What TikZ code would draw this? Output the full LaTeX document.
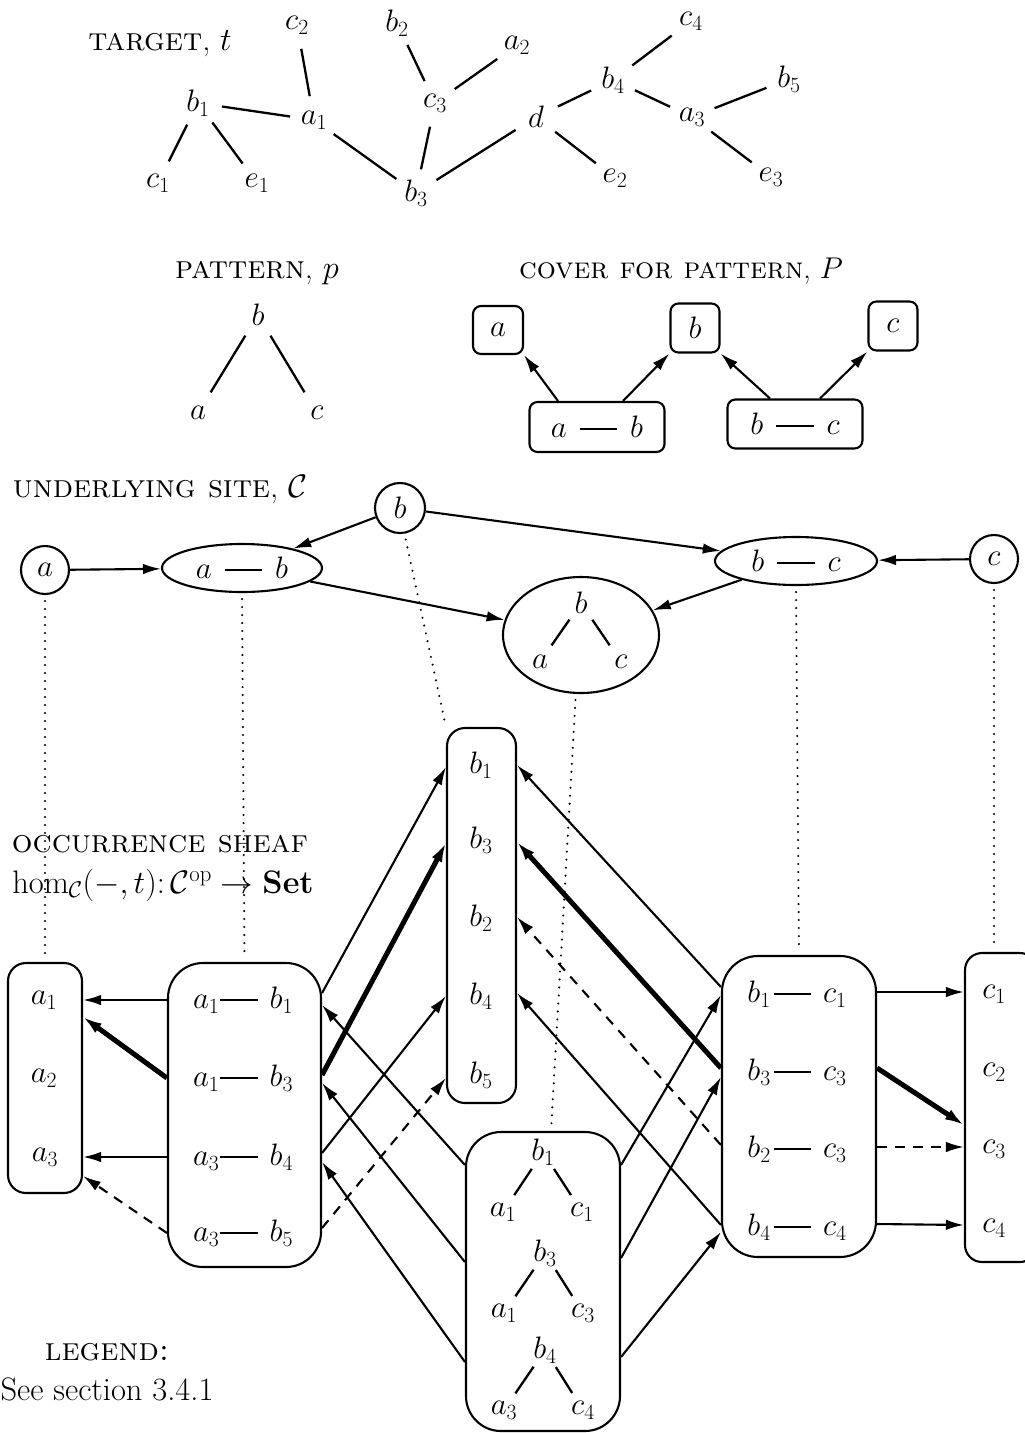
\documentclass[tikz,border=0pt]{standalone}
\usepackage{fix-cm}
\usetikzlibrary{arrows.meta,shapes.geometric,calc}
\newcommand\mydash{\rule[0.24em]{1.2em}{0.06em}}
\begin{document}
\begin{tikzpicture}[x=1pt,y=-1pt,
  every node/.style={font=\fontsize{31}{37}\selectfont},
  tl/.style={circle, inner sep=0pt, minimum size=48pt},
  ts/.style={circle, inner sep=0pt, minimum size=40pt},
  tline/.style={line width=2.3pt},
  box/.style={draw, line width=2.1pt, inner sep=0pt},
  sitenode/.style={draw, line width=2.1pt, inner sep=0pt},
  arr/.style={line width=2.1pt, -{Latex[length=18pt,width=10.5pt]}},
  thk/.style={line width=5pt, -{Latex[length=19pt,width=11.5pt]}},
  dsh/.style={arr, dash pattern=on 10pt off 8pt},
  dot/.style={line width=2.3pt, line cap=round, dash pattern=on 0pt off 8pt, shorten <=6pt, shorten >=6pt},
  ttl/.style={anchor=base, inner sep=0pt, font=\fontsize{32.5}{39}\selectfont}]
\path[use as bounding box, fill=white] (0,0) rectangle (1025,1433);

% ---------- TARGET ----------
\node[ttl] (ttarget) at (160,50) {\textsc{target}, $t$};
\node[tl] (tc2) at (297,25) {$c_2$};
\node[tl] (tb2) at (397,23) {$b_2$};
\node[tl] (ta2) at (517,45) {$a_2$};
\node[tl] (tc4) at (691,21) {$c_4$};
\node[tl] (tb1) at (198,103) {$b_1$};
\node[tl] (ta1) at (314,120) {$a_1$};
\node[tl] (tc3) at (435,103) {$c_3$};
\node[tl] (td) at (536,117) {$d$};
\node[tl] (tb4) at (613,80) {$b_4$};
\node[tl] (ta3) at (692,117) {$a_3$};
\node[tl] (tb5) at (789,79) {$b_5$};
\node[tl] (tc1) at (158,183) {$c_1$};
\node[tl] (te1) at (257,183) {$e_1$};
\node[tl] (tb3) at (416,193) {$b_3$};
\node[tl] (te2) at (615,178) {$e_2$};
\node[tl] (te3) at (771,177) {$e_3$};
\draw[tline] (tb1) -- (tc1);
\draw[tline] (tb1) -- (te1);
\draw[tline] (tb1) -- (ta1);
\draw[tline] (ta1) -- (tc2);
\draw[tline] (ta1) -- (tb3);
\draw[tline] (tb3) -- (tc3);
\draw[tline] (tc3) -- (tb2);
\draw[tline] (tc3) -- (ta2);
\draw[tline] (tb3) -- (td);
\draw[tline] (td) -- (tb4);
\draw[tline] (td) -- (te2);
\draw[tline] (tb4) -- (tc4);
\draw[tline] (tb4) -- (ta3);
\draw[tline] (ta3) -- (tb5);
\draw[tline] (ta3) -- (te3);

% ---------- PATTERN ----------
\node[ttl] (tpat) at (257,278) {\textsc{pattern}, $p$};
\node[tl] (pb) at (258,315) {$b$};
\node[tl] (pa) at (198,413) {$a$};
\node[tl] (pc) at (317,413) {$c$};
\draw[tline] (pb) -- (pa);
\draw[tline] (pb) -- (pc);

% ---------- COVER ----------
\node[ttl, font=\fontsize{30}{36}\selectfont] (tcov) at (681,278) {\textsc{cover for pattern}, $P$};
\node[box, rounded corners=8pt, minimum width=50pt, minimum height=48pt] (qa) at (498,330) {$a$};
\node[box, rounded corners=8pt, minimum width=49pt, minimum height=49pt] (qb) at (695,328) {$b$};
\node[box, rounded corners=8pt, minimum width=49pt, minimum height=49pt] (qc) at (893,326) {$c$};
\node[box, rounded corners=8pt, minimum width=135pt, minimum height=50pt] (qab) at (597,427) {$a$\kern13pt\mydash\kern13pt$b$};
\node[box, rounded corners=8pt, minimum width=135pt, minimum height=49pt] (qbc) at (795,424) {$b$\kern13pt\mydash\kern13pt$c$};
\draw[arr] ([xshift=-39pt]qab.north) -- (qa.south east);
\draw[arr] ([xshift=26pt]qab.north) -- (qb.south west);
\draw[arr] ([xshift=-25pt]qbc.north) -- (qb.south east);
\draw[arr] ([xshift=25pt]qbc.north) -- (qc.south west);

% ---------- SITE ----------
\node[ttl] (tsite) at (160,497) {\textsc{underlying site}, $\mathcal{C}$};
\node[sitenode, circle, minimum size=48pt] (Sa) at (45,570) {$a$};
\node[sitenode, ellipse, minimum width=160pt, minimum height=48pt] (Sab) at (242,568) {$a$\kern13pt\mydash\kern13pt$b$};
\node[sitenode, circle, minimum size=50pt] (Sb) at (400,508) {$b$};
\node[sitenode, ellipse, minimum width=156pt, minimum height=116pt] (Sabc) at (581,635) {};
\node[ts] (Xb) at (581,603) {$b$};
\node[ts] (Xa) at (540,662) {$a$};
\node[ts] (Xc) at (621,662) {$c$};
\draw[tline] (Xb) -- (Xa);
\draw[tline] (Xb) -- (Xc);
\node[sitenode, ellipse, minimum width=162pt, minimum height=48pt] (Sbc) at (796,561) {$b$\kern13pt\mydash\kern13pt$c$};
\node[sitenode, circle, minimum size=48pt] (Sc) at (994,559) {$c$};
\draw[arr] (Sa) -- (Sab);
\draw[arr] (Sb) -- (Sab);
\draw[arr] (Sb) -- (Sbc);
\draw[arr] (Sab) -- (Sabc);
\draw[arr] (Sbc) -- (Sabc);
\draw[arr] (Sc) -- (Sbc);

% ---------- OCCURRENCE SHEAF ----------
\node[ttl] (tocc) at (160,852) {\textsc{occurrence sheaf}};
\node[ttl] (thom) at (163,893) {$\hom_{\mathcal{C}}(-,t)\colon\mathcal{C}^{\mathrm{op}}\to\mathbf{Set}$};

\node[box, rounded corners=18pt, minimum width=74pt, minimum height=230pt] (A) at (45,1078) {};
\node[box, rounded corners=35pt, minimum width=153pt, minimum height=304pt] (AB) at (244.5,1115) {};
\node[box, rounded corners=18pt, minimum width=69pt, minimum height=375pt] (B) at (481.5,915.5) {};
\node[box, rounded corners=35pt, minimum width=154pt, minimum height=299pt] (ABC) at (543,1281.5) {};
\node[box, rounded corners=36pt, minimum width=154pt, minimum height=301pt] (BC) at (799,1106.5) {};
\node[box, rounded corners=17pt, minimum width=72pt, minimum height=309pt] (C) at (1001,1107.5) {};

\node (A1) at (44,1000) {$a_1$};
\node (A2) at (44,1078) {$a_2$};
\node (A3) at (45,1157) {$a_3$};
\node (AB1) at (243,1000) {$a_1$\kern1pt\mydash\kern12pt$b_1$};
\node (AB2) at (243,1078) {$a_1$\kern1pt\mydash\kern12pt$b_3$};
\node (AB3) at (243,1157) {$a_3$\kern1pt\mydash\kern12pt$b_4$};
\node (AB4) at (243,1233) {$a_3$\kern1pt\mydash\kern12pt$b_5$};
\node (B1) at (481,765) {$b_1$};
\node (B3) at (481,840) {$b_3$};
\node (B2) at (481,918) {$b_2$};
\node (B4) at (481,996) {$b_4$};
\node (B5) at (481,1075) {$b_5$};
\node[ts] (K1) at (543,1152) {$b_1$};
\node[ts] (K1a) at (503,1212) {$a_1$};
\node[ts] (K1c) at (582,1212) {$c_1$};
\node[ts] (K2) at (545,1253) {$b_3$};
\node[ts] (K2a) at (504,1313) {$a_1$};
\node[ts] (K2c) at (583,1313) {$c_3$};
\node[ts] (K3) at (545,1350) {$b_4$};
\node[ts] (K3a) at (504,1410) {$a_3$};
\node[ts] (K3c) at (583,1410) {$c_4$};
\draw[tline] (K1) -- (K1a); \draw[tline] (K1) -- (K1c);
\draw[tline] (K2) -- (K2a); \draw[tline] (K2) -- (K2c);
\draw[tline] (K3) -- (K3a); \draw[tline] (K3) -- (K3c);
\node (BC1) at (797,994) {$b_1$\kern3pt\mydash\kern12pt$c_1$};
\node (BC2) at (797,1072) {$b_3$\kern3pt\mydash\kern12pt$c_3$};
\node (BC3) at (797,1149) {$b_2$\kern3pt\mydash\kern12pt$c_3$};
\node (BC4) at (797,1227) {$b_4$\kern3pt\mydash\kern12pt$c_4$};
\node (C1) at (994,994) {$c_1$};
\node (C2) at (994,1072) {$c_2$};
\node (C3) at (994,1149) {$c_3$};
\node (C4) at (994,1228) {$c_4$};

% AB -> A
\draw[arr] (AB.west |- AB1) -- (A.east |- AB1);
\draw[thk] (AB.west |- AB2) -- ($(A.east |- A1)+(0,17)$);
\draw[arr] (AB.west |- AB3) -- (A.east |- AB3);
\draw[dsh] (AB.west |- AB4) -- ($(A.east |- A3)+(0,19)$);
% AB -> B
\draw[arr] ($(AB.east |- AB1)+(0,-7)$) -- ($(B.west |- B1)+(0,2)$);
\draw[thk] ($(AB.east |- AB2)+(0,-3)$) -- ($(B.west |- B3)+(0,3)$);
\draw[arr] ($(AB.east |- AB3)+(0,-4)$) -- (B.west |- B4);
\draw[dsh] ($(AB.east |- AB4)+(0,-5)$) -- ($(B.west |- B5)+(0,3)$);
% ABC -> AB
\draw[arr] ($(ABC.west |- K1)+(0,13)$) -- ($(AB.east |- AB1)+(0,5)$);
\draw[arr] ($(ABC.west |- K2)+(0,9)$) -- ($(AB.east |- AB2)+(0,5)$);
\draw[arr] ($(ABC.west |- K3)+(0,12)$) -- ($(AB.east |- AB3)+(0,5)$);
% ABC -> BC
\draw[arr] ($(ABC.east |- K1)+(0,13)$) -- ($(BC.west |- BC1)+(0,1)$);
\draw[arr] ($(ABC.east |- K2)+(0,5)$) -- ($(BC.west |- BC2)+(0,5)$);
\draw[arr] ($(ABC.east |- K3)+(0,7)$) -- ($(BC.west |- BC4)+(0,5)$);
% BC -> B
\draw[arr] ($(BC.west |- BC1)+(0,-7)$) -- (B.east |- B1);
\draw[thk] ($(BC.west |- BC2)+(0,-4)$) -- ($(B.east |- B3)+(0,2)$);
\draw[dsh] ($(BC.west |- BC3)+(0,-4)$) -- ($(B.east |- B2)+(0,-1)$);
\draw[arr] ($(BC.west |- BC4)+(0,-2)$) -- ($(B.east |- B4)+(0,-3)$);
% BC -> C
\draw[arr] ($(BC.east |- BC1)+(0,-2)$) -- ($(C.west |- C1)+(0,-2)$);
\draw[thk] ($(BC.east |- BC2)+(0,-4)$) -- ($(C.west |- C3)+(0,-24)$);
\draw[dsh] ($(BC.east |- BC3)+(0,-2)$) -- ($(C.west |- C3)+(0,-2)$);
\draw[arr] ($(BC.east |- BC4)+(0,-3)$) -- ($(C.west |- C4)+(0,-3)$);

% dotted correspondences
\draw[dot] (Sa) -- (A);
\draw[dot] (Sab.south) -- (AB.north);
\draw[dot] (Sb.-80) -- (B.north west);
\draw[dot] (Sabc.-95) -- ([xshift=8pt]ABC.north);
\draw[dot] (Sbc.south) -- (BC.north);
\draw[dot] (Sc.south) -- (C.north -| Sc);

% ---------- LEGEND ----------
\node[ttl] (tleg) at (107,1360) {\textsc{legend:}};
\node[ttl] (tsee) at (107,1400) {See section 3.4.1};
\end{tikzpicture}
\end{document}
